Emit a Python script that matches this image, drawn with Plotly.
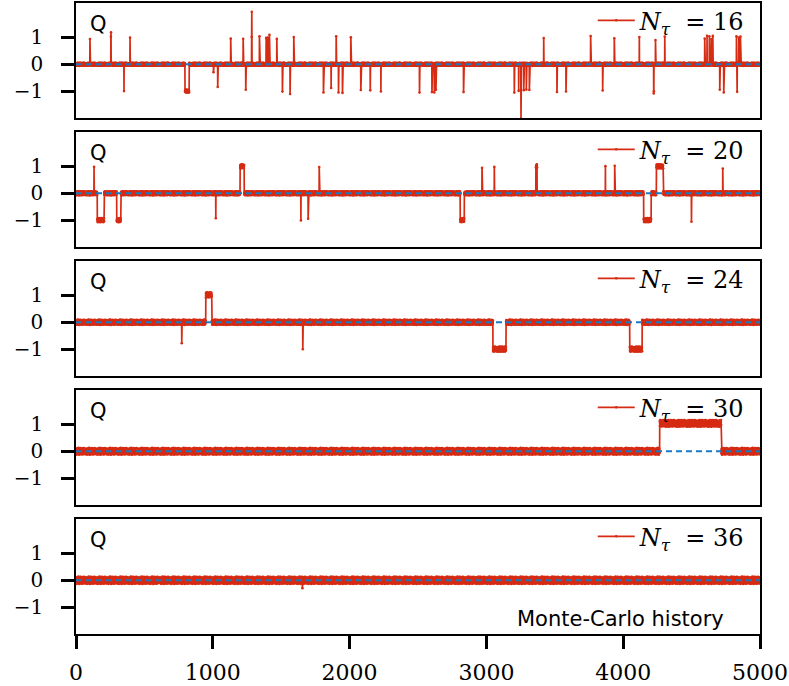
import plotly.graph_objects as go
from plotly.subplots import make_subplots

N_STEPS = 5000
N_TAU = [16, 20, 24, 30, 36]
NOISE_AMP = [0.06, 0.08, 0.10, 0.13, 0.14]

# small fluctuations of Q around its integer value, cycled along the history
JITTER = [0.42, -0.81, 0.15, 0.67, -0.33, -0.95, 0.58, 0.04, -0.52, 0.88, -0.17,
          0.31, -0.71, 0.79, -0.06, 0.49, -0.88, 0.23, 0.97, -0.41, 0.12, -0.63,
          0.71, -0.27, 0.36, -0.99, 0.54, -0.12, 0.83, -0.58, 0.19, -0.36, 0.64,
          -0.77, 0.08, 0.92, -0.47, 0.27, -0.85, 0.61, -0.21, 0.45, -0.69, 0.02,
          0.76, -0.31, 0.53, -0.92, 0.34, -0.09, 0.86, -0.55, 0.17, -0.74, 0.68,
          -0.24, 0.39, -0.83, 0.95, -0.44, 0.11, -0.61, 0.73, -0.14, 0.29, -0.66,
          0.81, -0.03, -0.48, 0.57, 0.21, -0.89, 0.47, -0.19, 0.65, -0.38, 0.06]

# tunnelling events: (first step, last step, topological charge)
EVENTS_16 = [
    (102, 102, 1.0), (255, 255, 1.0), (256, 256, 1.25), (351, 351, -1.0),
    (395, 395, 1.0), (797, 827, -1.0), (1005, 1005, -0.28), (1036, 1036, -0.9),
    (1131, 1131, 1.0), (1222, 1222, 0.95), (1241, 1241, -1.0), (1284, 1284, 1.0),
    (1285, 1285, 2.0), (1341, 1341, 1.0), (1390, 1390, 1.0), (1402, 1402, 1.05),
    (1414, 1414, 1.05), (1468, 1468, 1.0), (1509, 1509, -1.05), (1565, 1565, -1.05),
    (1592, 1592, 1.0), (1809, 1809, -1.0), (1865, 1865, -0.9), (1902, 1902, 1.0),
    (1919, 1919, -1.0), (1948, 1948, -1.05), (2009, 2009, 1.0), (2082, 2082, -1.0),
    (2151, 2151, -1.0), (2229, 2229, -1.0), (2511, 2511, -1.0), (2602, 2602, -1.0),
    (2619, 2619, -1.0), (2631, 2631, -1.0), (2833, 2833, -1.0), (3204, 3204, -1.0),
    (3236, 3236, -1.0), (3252, 3252, -1.0), (3253, 3253, -2.0), (3273, 3273, -1.0),
    (3292, 3292, -1.0), (3314, 3314, -1.0), (3419, 3419, 1.0), (3516, 3516, -1.0),
    (3582, 3582, -1.0), (3762, 3762, 1.0), (3850, 3850, -1.0), (3935, 3935, 1.0),
    (4118, 4118, 1.0), (4223, 4224, -1.05), (4236, 4236, 0.95), (4304, 4304, 1.0),
    (4596, 4596, 1.0), (4613, 4613, 1.05), (4630, 4630, 1.05), (4645, 4645, 1.0),
    (4655, 4655, 1.0), (4706, 4706, -1.0), (4735, 4735, -1.0), (4828, 4828, 1.0),
    (4833, 4833, -1.0), (4845, 4845, 1.05), (4857, 4857, 1.0),
]
EVENTS_20 = [
    (132, 132, 1.0), (156, 205, -1.0), (298, 327, -1.0), (1022, 1022, -0.88),
    (1200, 1229, 1.0), (1644, 1644, -1.0), (1697, 1697, -1.0), (1778, 1778, 0.97),
    (2809, 2838, -1.0), (2968, 2968, 1.0), (3058, 3058, 1.0), (3362, 3370, 1.0),
    (3870, 3870, 1.0), (3938, 3938, 1.0), (4150, 4204, -1.0), (4243, 4292, 1.0),
    (4499, 4499, -1.0), (4728, 4728, 0.95),
]
EVENTS_24 = [
    (773, 773, -0.85), (949, 992, 1.02), (1658, 1658, -1.05),
    (3048, 3143, -1.0), (4048, 4138, -1.0),
]
EVENTS_30 = [
    (4267, 4716, 1.04),
]
EVENTS_36 = [
    (610, 610, 0.2), (1655, 1655, -0.18), (2930, 2930, 0.16),
]
EVENTS = [EVENTS_16, EVENTS_20, EVENTS_24, EVENTS_30, EVENTS_36]

X_TICKS = [0, 1000, 2000, 3000, 4000, 5000]
Y_TICKS = [-1, 0, 1]

RED = "rgb(214,44,20)"
BLUE = "rgb(24,122,196)"
SERIF = "DejaVu Serif"
SANS = "DejaVu Sans"

steps = list(range(N_STEPS + 1))


def charge_history(events, amp):
    q = [0.0] * (N_STEPS + 1)
    for first, last, value in events:
        for i in range(first, last + 1):
            q[i] = value
    return [v + amp * JITTER[i % len(JITTER)] for i, v in enumerate(q)]


# panel geometry in pixels
W, H = 789, 686
LEFT, RIGHT, TOP, BOTTOM = 76, 29, 3, 52
plot_h = H - TOP - BOTTOM
panel_h = 115.0
gap = (plot_h - 5 * panel_h) / 4

fig = make_subplots(rows=5, cols=1, shared_xaxes=True,
                    vertical_spacing=gap / plot_h)

for k, (ntau, events, amp) in enumerate(zip(N_TAU, EVENTS, NOISE_AMP)):
    row = k + 1
    leg = "legend" if k == 0 else f"legend{row}"
    q = charge_history(events, amp)
    fig.add_trace(go.Scatter(
        x=steps, y=q, mode="lines+markers",
        line=dict(color=RED, width=1.7),
        marker=dict(size=2.6, color=RED),
        name=f"<i>N</i><sub><i>τ</i></sub>&nbsp;&nbsp;=&nbsp;{ntau}",
        legend=leg,
    ), row=row, col=1)
    fig.add_trace(go.Scatter(
        x=[0, N_STEPS], y=[0, 0], mode="lines",
        line=dict(color=BLUE, width=2, dash="6px,4px"),
        showlegend=False, hoverinfo="skip",
    ), row=row, col=1)

    # legend placement: top right of each panel
    top_px = k * (panel_h + gap)
    legend_y = 1 - (top_px + 17.7) / plot_h
    fig.update_layout({leg: dict(
        x=0.985, y=legend_y, xanchor="right", yanchor="middle",
        bgcolor="rgba(0,0,0,0)", borderwidth=0,
        font=dict(family=SERIF, size=24, color="black"),
        itemwidth=37,
    )})

    xr = "x domain" if k == 0 else f"x{row} domain"
    yr = "y domain" if k == 0 else f"y{row} domain"
    fig.add_annotation(text="Q", xref=xr, yref=yr, x=0.018, y=0.82,
                       xanchor="left", yanchor="middle", showarrow=False,
                       font=dict(family=SANS, size=21, color="black"))
    if k == 4:
        fig.add_annotation(text="Monte-Carlo history", xref=xr, yref=yr,
                           x=0.95, y=0.13, xanchor="right", yanchor="middle",
                           showarrow=False,
                           font=dict(family=SANS, size=21, color="black"))

    fig.update_yaxes(row=row, col=1, range=[-2.0, 2.28], tickvals=Y_TICKS,
                     ticktext=["−1", "0", "1"], automargin=False,
                     ticks="outside", ticklen=13, tickwidth=2.5, tickcolor="black",
                     ticklabelstandoff=14,
                     tickfont=dict(family=SERIF, size=20, color="black"),
                     showline=True, mirror=True, linecolor="black", linewidth=1.5,
                     showgrid=False, zeroline=False)
    fig.update_xaxes(row=row, col=1, range=[0, N_STEPS], automargin=False,
                     showline=True, mirror=True, linecolor="black", linewidth=1.5,
                     showgrid=False, zeroline=False)
    if k < 4:
        fig.update_xaxes(row=row, col=1, ticks="", showticklabels=False)
    else:
        fig.update_xaxes(row=row, col=1, tickvals=X_TICKS, ticks="outside",
                         ticklen=13, tickwidth=2.5, tickcolor="black",
                         ticklabelstandoff=5, showticklabels=True,
                         tickfont=dict(family=SERIF, size=22, color="black"))

fig.update_layout(
    width=W, height=H,
    margin=dict(l=LEFT, r=RIGHT, t=TOP, b=BOTTOM, pad=0, autoexpand=False),
    paper_bgcolor="white", plot_bgcolor="white",
    showlegend=True,
)

fig.write_html("out.html")
